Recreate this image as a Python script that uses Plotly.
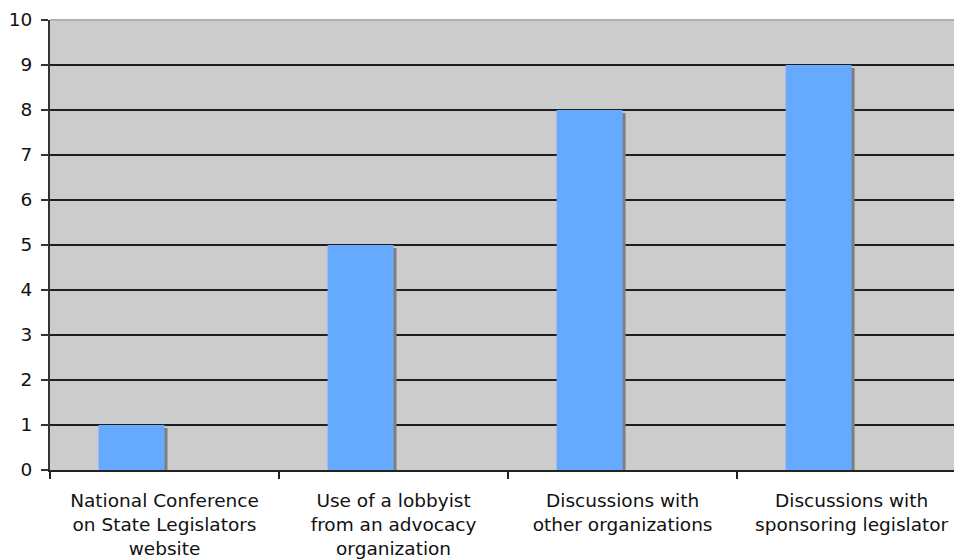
import plotly.graph_objects as go

categories = [
    "National Conference<br>on State Legislators<br>website",
    "Use of a lobbyist<br>from an advocacy<br>organization",
    "Discussions with<br>other organizations",
    "Discussions with<br>sponsoring legislator",
]
values = [1, 5, 8, 9]
y_ticks = list(range(0, 11))

BAR_W = 0.288
SHADOW_DX = 0.013
SHADOW_DY = 0.067

fig = go.Figure()
fig.add_trace(go.Bar(
    x=categories, y=[v - SHADOW_DY for v in values],
    width=BAR_W, offset=-BAR_W + SHADOW_DX,
    marker=dict(color="#7f7f7f", line=dict(width=0)),
    hoverinfo="skip", showlegend=False,
))
fig.add_trace(go.Bar(
    x=categories, y=values,
    width=BAR_W, offset=-BAR_W,
    marker=dict(color="#66aaff", line=dict(width=0)),
    showlegend=False,
))

fig.update_layout(
    width=954, height=559,
    margin=dict(l=50, r=0, t=20, b=89),
    paper_bgcolor="white",
    plot_bgcolor="#cccccc",
    barmode="overlay",
    font=dict(family="DejaVu Sans", size=18.5, color="#111111"),
    xaxis=dict(
        type="category",
        range=[-0.5, 3.447],
        tickson="boundaries",
        ticks="outside", ticklen=7, tickwidth=2, tickcolor="#222222",
        showline=True, linecolor="#222222", linewidth=2,
        showgrid=False,
        ticklabelstandoff=13,
    ),
    yaxis=dict(
        range=[0, 10],
        tickvals=y_ticks,
        ticks="outside", ticklen=7, tickwidth=2, tickcolor="#333333",
        showline=True, linecolor="#333333", linewidth=2,
        showgrid=True, gridcolor="#1e1e1e", gridwidth=2,
        zeroline=False,
        ticklabelstandoff=5,
    ),
    shapes=[dict(type="line", xref="paper", yref="paper", x0=0, x1=1, y0=1, y1=1,
                 line=dict(color="#b0b0b0", width=2), layer="above")],
)

fig.write_html("out.html")
